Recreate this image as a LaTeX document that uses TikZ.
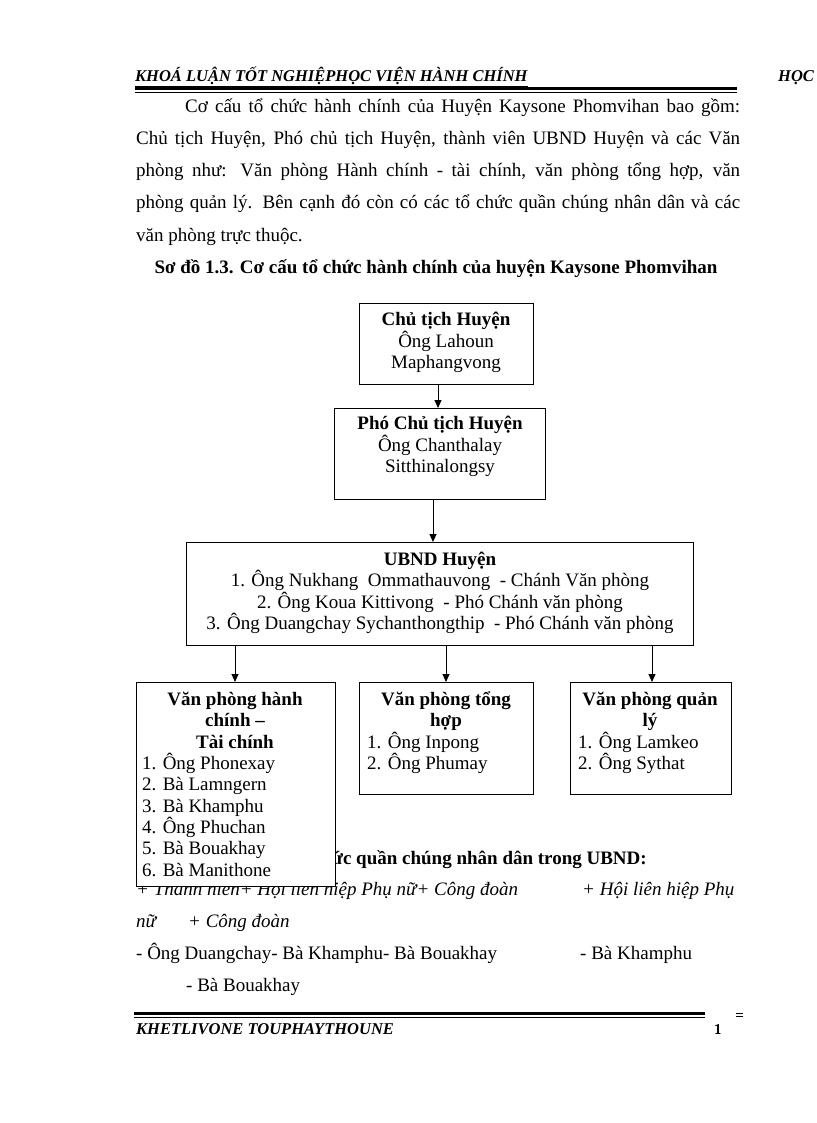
\documentclass[tikz,border=0pt]{standalone}
\usepackage{fontspec}
\setmainfont{Liberation Serif}
\usetikzlibrary{arrows.meta}
\begin{document}
\begin{tikzpicture}[x=1pt,y=-1pt,
  box/.style={draw, line width=1pt, fill=white, inner sep=0pt, anchor=north west},
  arr/.style={-{Triangle[length=8pt,width=7pt]}, line width=0.9pt},
  txt/.style={inner sep=0pt, anchor=base, font=\fontsize{19}{21}\selectfont},
  btxt/.style={txt, font=\fontsize{19}{21}\selectfont\bfseries},
  txtl/.style={txt, anchor=base west},
  txtr/.style={txt, anchor=base east},
  hdr/.style={inner sep=0pt, anchor=base west, font=\fontsize{16.5}{18}\selectfont\bfseries\itshape},
  ital/.style={txtl, font=\fontsize{19}{21}\selectfont\itshape}]
\useasboundingbox (0,0) rectangle (816,1123);
\fill[white] (0,0) rectangle (816,1123);

% header
\node[hdr] (h1) at (135,82) {\underline{KHOÁ LUẬN TỐT NGHIỆPHỌC VIỆN HÀNH CHÍNH}};
\node[hdr] (h2) at (778,82) {HỌC};
\fill (135,87) rectangle (737,90);
\fill (135,92) rectangle (737,93);

% paragraph
\node[txtl] (p1) at (185,113) {\makebox[555pt][s]{Cơ cấu tổ chức hành chính của Huyện Kaysone Phomvihan bao gồm:}};
\node[txtl] (p2) at (136,145) {\makebox[604pt][s]{Chủ tịch Huyện, Phó chủ tịch Huyện, thành viên UBND Huyện và các Văn}};
\node[txtl] (p3) at (136,177) {\makebox[604pt][s]{phòng như: Văn phòng Hành chính - tài chính, văn phòng tổng hợp, văn}};
\node[txtl] (p4) at (136,209) {\makebox[604pt][s]{phòng quản lý. Bên cạnh đó còn có các tổ chức quần chúng nhân dân và các}};
\node[txtl] (p5) at (136,241) {văn phòng trực thuộc.};
\node[btxt] (title) at (436,273) {Sơ đồ 1.3. Cơ cấu tổ chức hành chính của huyện Kaysone Phomvihan};

% boxes
\node[box, minimum width=174pt, minimum height=81pt] (b1) at (359,303) {};
\node[box, minimum width=211pt, minimum height=91pt] (b2) at (334,408) {};
\node[box, minimum width=507pt, minimum height=103pt] (b3) at (186,542) {};
\node[box, minimum width=174pt, minimum height=112pt] (bB) at (359,682) {};
\node[box, minimum width=161pt, minimum height=112pt] (bC) at (570,682) {};

\node[btxt] (b1t1) at (446,325) {Chủ tịch Huyện};
\node[txt] (b1t2) at (446,347) {Ông Lahoun};
\node[txt] (b1t3) at (446,368) {Maphangvong};

\node[btxt] (b2t1) at (440,429) {Phó Chủ tịch Huyện};
\node[txt] (b2t2) at (440,451) {Ông Chanthalay};
\node[txt] (b2t3) at (440,472) {Sitthinalongsy};

\node[btxt] (b3t1) at (440,565) {UBND Huyện};
\node[txt] (b3t2) at (440,586) {1. Ông Nukhang\ \ Ommathauvong\ \ - Chánh Văn phòng};
\node[txt] (b3t3) at (440,608) {2. Ông Koua Kittivong\ \ - Phó Chánh văn phòng};
\node[txt] (b3t4) at (440,629) {3. Ông Duangchay Sychanthongthip\ \ - Phó Chánh văn phòng};

\node[btxt] (bBt1) at (446,705) {Văn phòng tổng};
\node[btxt] (bBt2) at (446,726) {hợp};
\node[txtl] (bBt3) at (367,748) {1. Ông Inpong};
\node[txtl] (bBt4) at (367,769) {2. Ông Phumay};

\node[btxt] (bCt1) at (650,705) {Văn phòng quản};
\node[btxt] (bCt2) at (650,726) {lý};
\node[txtl] (bCt3) at (578,748) {1. Ông Lamkeo};
\node[txtl] (bCt4) at (578,769) {2. Ông Sythat};

% text below (partly covered by box A)
\node[txtr, font=\fontsize{19}{21}\selectfont\bfseries] (q1) at (647,864) {- Các tổ chức quần chúng nhân dân trong UBND:};
\node[ital] (q2) at (136,895) {+ Thanh niên+ Hội liên hiệp Phụ nữ+ Công đoàn};
\node[ital] (q3) at (582,895) {+ Hội liên hiệp Phụ};
\node[ital] (q4) at (136,927) {nữ};
\node[ital] (q5) at (188,927) {+ Công đoàn};
\node[txtl] (q6) at (136,959) {- Ông Duangchay- Bà Khamphu- Bà Bouakhay};
\node[txtl] (q7) at (580,959) {- Bà Khamphu};
\node[txtl] (q8) at (186,991) {- Bà Bouakhay};

% box A drawn on top
\node[box, minimum width=199pt, minimum height=204pt] (bA) at (136,682) {};
\node[btxt] (bAt1) at (235,705) {Văn phòng hành};
\node[btxt] (bAt2) at (235,726) {chính –};
\node[btxt] (bAt3) at (235,748) {Tài chính};
\node[txtl] (bAt4) at (142,769) {1. Ông Phonexay};
\node[txtl] (bAt5) at (142,790) {2. Bà Lamngern};
\node[txtl] (bAt6) at (142,812) {3. Bà Khamphu};
\node[txtl] (bAt7) at (142,833) {4. Ông Phuchan};
\node[txtl] (bAt8) at (142,854) {5. Bà Bouakhay};
\node[txtl] (bAt9) at (142,876) {6. Bà Manithone};

% connectors
\draw[arr] (438,0 |- b1.south) -- (438,0 |- b2.north);
\draw[arr] (433,0 |- b2.south) -- (433,0 |- b3.north);
\draw[arr] (235,0 |- b3.south) -- (235,0 |- bA.north);
\draw[arr] (446,0 |- b3.south) -- (446,0 |- bB.north);
\draw[arr] (652,0 |- b3.south) -- (652,0 |- bC.north);

% footer
\fill (134,1012) rectangle (705,1015);
\fill (134,1017) rectangle (705,1018);
\fill (736,1013) rectangle (743,1014);
\fill (736,1016) rectangle (743,1017);
\node[hdr] (f1) at (136,1034) {KHETLIVONE TOUPHAYTHOUNE};
\node[inner sep=0pt, anchor=base, font=\fontsize{14}{16}\selectfont\sffamily\bfseries] (f2) at (718,1034) {1};
\end{tikzpicture}
\end{document}
